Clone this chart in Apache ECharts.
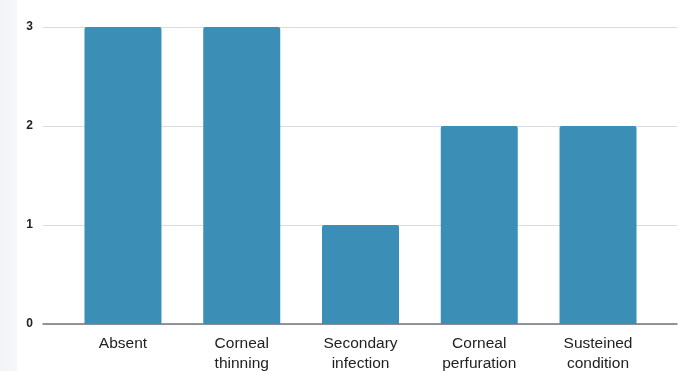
<!DOCTYPE html>
<html>
<head>
<meta charset="utf-8">
<style>
  html, body { margin: 0; padding: 0; background: #ffffff; }
  #chart { width: 684px; height: 371px; }
</style>
<script src="https://cdn.jsdelivr.net/npm/echarts@6/dist/echarts.min.js"></script>
</head>
<body>
<div id="chart"></div>
<script>
// Outcome categories (two-line labels) and number of cases in each
const categories = [
  'Absent',
  'Corneal\nthinning',
  'Secondary\ninfection',
  'Corneal\nperfuration',
  'Susteined\ncondition'
];
const caseCounts = [3, 3, 1, 2, 2];
const yTicks = [0, 1, 2, 3];

const chart = echarts.init(document.getElementById('chart'), null, { renderer: 'canvas' });

const yMin = yTicks[0];
const yMax = yTicks[yTicks.length - 1];

chart.setOption({
  backgroundColor: '#ffffff',
  animation: false,
  graphic: [{
    type: 'rect',
    left: 0, top: 0,
    shape: { width: 17, height: 371 },
    style: {
      fill: new echarts.graphic.LinearGradient(0, 0, 1, 0, [
        { offset: 0, color: '#f1f3f6' },
        { offset: 1, color: '#f7f8fa' }
      ])
    },
    silent: true,
    z: -1
  }],
  grid: [
    // wide frame: gridlines, value labels and baseline
    { left: 43, right: 7, top: 27, bottom: 47, outerBoundsMode: 'none', containLabel: false },
    // bar area
    { left: 63.6, width: 593.8, top: 27, bottom: 47, outerBoundsMode: 'none', containLabel: false }
  ],
  xAxis: [
    {
      gridIndex: 0,
      type: 'category',
      data: [''],
      axisLine: { show: true, lineStyle: { color: '#737680', width: 1.5 } },
      axisTick: { show: false },
      axisLabel: { show: false }
    },
    {
      gridIndex: 1,
      type: 'category',
      data: categories,
      axisLine: { show: false },
      axisTick: { show: false },
      axisLabel: {
        interval: 0,
        margin: 10,
        color: '#222222',
        fontFamily: 'Liberation Sans, Arial, sans-serif',
        fontSize: 15.5,
        lineHeight: 20
      }
    }
  ],
  yAxis: [
    {
      gridIndex: 0,
      type: 'value',
      min: yMin,
      max: yMax,
      interval: 1,
      axisLine: { show: false },
      axisTick: { show: false },
      axisLabel: {
        margin: 10,
        color: '#222222',
        fontWeight: 'bold',
        fontFamily: 'Liberation Sans, Arial, sans-serif',
        fontSize: 12
      },
      splitLine: { lineStyle: { color: '#d7dbe3', width: 1 } }
    },
    {
      gridIndex: 1,
      type: 'value',
      min: yMin,
      max: yMax,
      interval: 1,
      show: false,
      splitLine: { show: false }
    }
  ],
  series: [{
    type: 'bar',
    xAxisIndex: 1,
    yAxisIndex: 1,
    data: caseCounts,
    barWidth: 77,
    itemStyle: {
      color: '#3b8fb6',
      borderRadius: [2, 2, 0, 0]
    },
    z: 3
  }]
});
</script>
</body>
</html>
